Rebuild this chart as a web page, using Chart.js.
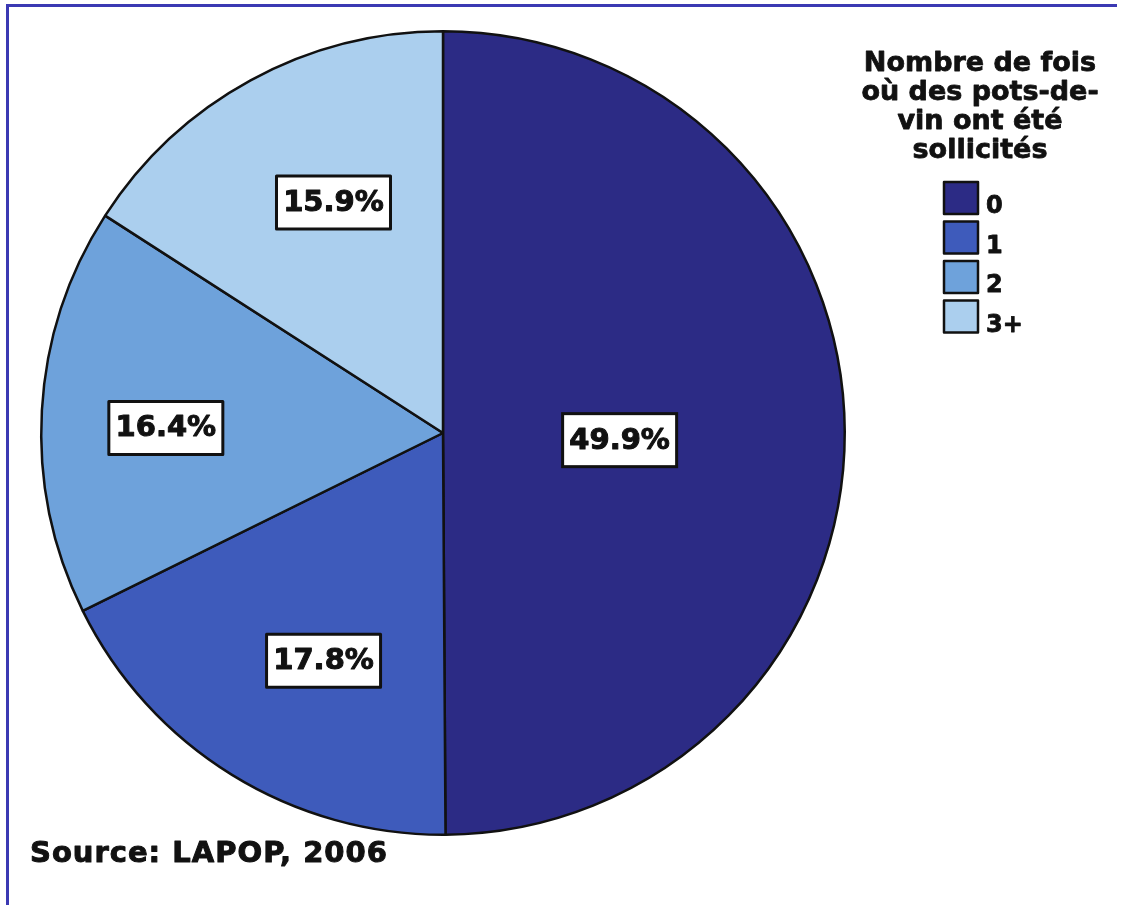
<!DOCTYPE html>
<html lang="fr">
<head>
<meta charset="utf-8">
<title>Nombre de fois où des pots-de-vin ont été sollicités</title>
<script src="https://cdn.jsdelivr.net/npm/chart.js@4.4.1/dist/chart.umd.min.js"></script>
<style>
  html, body { margin: 0; padding: 0; background: #fff; }
  #wrap { position: relative; width: 1125px; height: 905px; overflow: hidden; }
  #frame {
    position: absolute; left: 6px; top: 4px; width: 1111px; height: 920px;
    border-top: 3px solid #3b39b3; border-left: 3px solid #3b39b3;
    box-sizing: border-box; pointer-events: none;
  }
  canvas { position: absolute; left: 0; top: 0; }
</style>
</head>
<body>
<div id="wrap">
  <canvas id="chartBribes" width="1125" height="905"></canvas>
  <div id="frame"></div>
</div>
<script>
/* Data */
const CATEGORIES   = ['0', '1', '2', '3+'];
const SHARES       = [49.9, 17.8, 16.4, 15.9];
const LEGEND_TITLE = ['Nombre de fois', 'où des pots-de-', 'vin ont été', 'sollicités'];
const SOURCE_NOTE  = 'Source: LAPOP, 2006';

(function () {
  'use strict';

  function init() {
    if (typeof Chart === 'undefined') {
      setTimeout(init, 50);
      return;
    }

    const SLICE_COLORS = ['#2c2b85', '#3e5bbb', '#6ea2db', '#abcfee'];
    const INK  = '#111111';
    const FONT = "'DejaVu Sans', 'Liberation Sans', sans-serif";

    // where each value box sits: fraction of radius, and a small turn off the slice middle (deg)
    const LABEL_RADIUS = [0.44, 0.64, 0.69, 0.635];
    const LABEL_TURN   = [2.5, -4, -2.2, 3.2];

    // heavy text: fill plus a thin stroke, closer to the black-weight face of the original
    function heavyText(ctx, txt, x, y, w) {
      ctx.lineWidth = w;
      ctx.strokeStyle = INK;
      ctx.lineJoin = 'round';
      ctx.strokeText(txt, x, y);
      ctx.fillText(txt, x, y);
    }

    /* ---------- value boxes on the slices -------------------------- */
    const valueBoxes = {
      id: 'valueBoxes',
      afterDatasetsDraw(chart) {
        const ctx = chart.ctx;
        const meta = chart.getDatasetMeta(0);
        ctx.save();
        ctx.font = 'bold 29px ' + FONT;
        ctx.textAlign = 'center';
        ctx.textBaseline = 'middle';
        meta.data.forEach((arc, i) => {
          const mid = (arc.startAngle + arc.endAngle) / 2 + LABEL_TURN[i] * Math.PI / 180;
          const r = arc.outerRadius * LABEL_RADIUS[i];
          const cx = arc.x + Math.cos(mid) * r;
          const cy = arc.y + Math.sin(mid) * r;
          const w = 114, h = 53;
          ctx.fillStyle = '#ffffff';
          ctx.fillRect(cx - w / 2, cy - h / 2, w, h);
          ctx.lineWidth = 3;
          ctx.strokeStyle = INK;
          ctx.strokeRect(cx - w / 2, cy - h / 2, w, h);
          ctx.fillStyle = INK;
          heavyText(ctx, chart.data.datasets[0].data[i].toFixed(1) + '%', cx, cy + 1, 1);
        });
        ctx.restore();
      },
    };

    /* ---------- legend + source note ------------------------------- */
    const sideLegend = {
      id: 'sideLegend',
      afterDraw(chart) {
        const ctx = chart.ctx;
        const ds = chart.data.datasets[0];
        ctx.save();
        ctx.fillStyle = INK;
        ctx.textBaseline = 'alphabetic';

        ctx.font = 'bold 27px ' + FONT;
        ctx.textAlign = 'center';
        LEGEND_TITLE.forEach((line, i) => heavyText(ctx, line, 980, 71 + i * 29, 0.8));

        ctx.textAlign = 'left';
        ctx.font = 'bold 24px ' + FONT;
        chart.data.labels.forEach((lab, i) => {
          const y = 182 + i * 39.5;
          ctx.fillStyle = ds.backgroundColor[i];
          ctx.fillRect(944, y, 34, 32);
          ctx.lineWidth = 2.5;
          ctx.strokeStyle = INK;
          ctx.strokeRect(944, y, 34, 32);
          ctx.fillStyle = INK;
          heavyText(ctx, lab, 986, y + 31, 0.8);
        });

        ctx.font = 'bold 29px ' + FONT;
        if ('letterSpacing' in ctx) ctx.letterSpacing = '1px';
        heavyText(ctx, SOURCE_NOTE, 30, 862, 1);
        ctx.restore();
      },
    };

    new Chart(document.getElementById('chartBribes'), {
      type: 'pie',
      data: {
        labels: CATEGORIES,
        datasets: [{
          data: SHARES,
          backgroundColor: SLICE_COLORS,
          borderColor: INK,
          borderWidth: 2.5,
        }],
      },
      options: {
        responsive: false,
        animation: false,
        events: [],
        layout: { padding: { left: 40, top: 30, right: 279, bottom: 69 } },
        plugins: {
          legend: { display: false },
          tooltip: { enabled: false },
        },
      },
      plugins: [valueBoxes, sideLegend],
    });
  }

  if (document.readyState === 'loading') {
    document.addEventListener('DOMContentLoaded', init);
  } else {
    init();
  }
})();
</script>
</body>
</html>
